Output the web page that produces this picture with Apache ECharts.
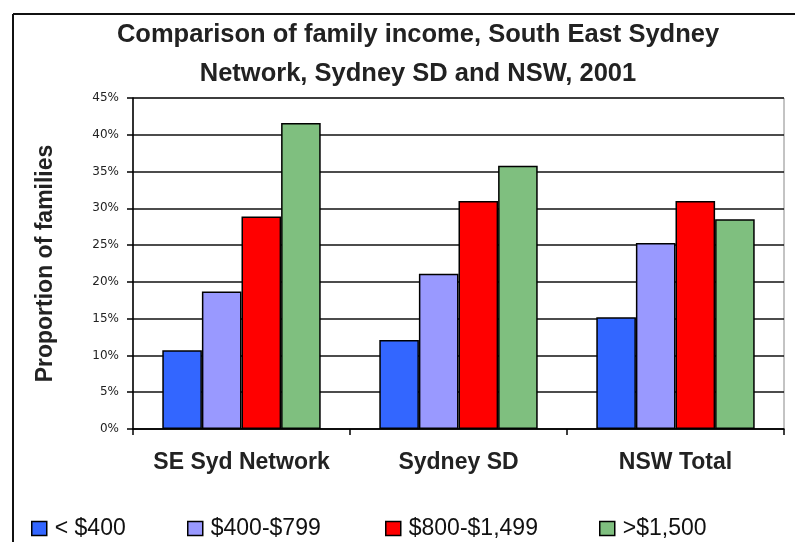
<!DOCTYPE html>
<html>
<head>
<meta charset="utf-8">
<script src="https://cdn.jsdelivr.net/npm/echarts@6/dist/echarts.min.js"></script>
<style>html,body{margin:0;padding:0;background:#fff}#c{width:795px;height:542px}</style>
</head>
<body>
<div id="c"></div>
<script>
var categories = ['SE Syd Network', 'Sydney SD', 'NSW Total'];
var seriesNames = ['< $400', '$400-$799', '$800-$1,499', '>$1,500'];
var under400 = [10.7, 12.1, 15.2];
var s400to799 = [18.7, 21.1, 25.3];
var s800to1499 = [28.9, 31.0, 31.0];
var over1500 = [41.6, 35.8, 28.5];
var yTicks = [0, 5, 10, 15, 20, 25, 30, 35, 40, 45];
var colors = ['#3366FF', '#9999FF', '#FF0000', '#7FBF7F'];
var legendLeft = [31, 187, 385, 599];

var allValues = [under400, s400to799, s800to1499, over1500];
var FONT = '"Liberation Sans", Arial, sans-serif';

var chart = echarts.init(document.getElementById('c'), null, {renderer: 'canvas'});

var series = seriesNames.map(function (n, i) {
  return {
    name: n,
    type: 'bar',
    data: allValues[i],
    barGap: '0%',
    barCategoryGap: '27%',
    itemStyle: {color: colors[i], borderColor: '#000', borderWidth: 1.5},
    emphasis: {disabled: true}
  };
});

var legends = seriesNames.map(function (n, i) {
  return {
    data: [n],
    left: legendLeft[i],
    top: 517,
    itemWidth: 15,
    itemHeight: 14,
    itemGap: 0,
    padding: 0,
    icon: 'rect',
    itemStyle: {borderColor: '#000', borderWidth: 1.5},
    textStyle: {fontFamily: FONT, fontSize: 23, color: '#111', padding: [0, 0, 0, 3]},
    selectedMode: false
  };
});

chart.setOption({
  animation: false,
  color: colors,
  title: {
    text: 'Comparison of family income, South East Sydney\nNetwork, Sydney SD and NSW, 2001',
    left: 413,
    textAlign: 'center',
    top: 10,
    textStyle: {fontFamily: FONT, fontSize: 25.5, fontWeight: 'bold', color: '#222', lineHeight: 39}
  },
  legend: legends,
  grid: {left: 133, right: 11, top: 98, bottom: 113, show: true, borderColor: '#888', borderWidth: 1, backgroundColor: 'transparent'},
  xAxis: {
    type: 'category',
    data: categories,
    axisLine: {lineStyle: {color: '#000', width: 1.5}},
    axisTick: {show: true, interval: 0, length: 6, lineStyle: {color: '#000', width: 1.5}},
    axisLabel: {interval: 0, fontFamily: FONT, fontSize: 23, fontWeight: 'bold', color: '#222', margin: 22}
  },
  yAxis: {
    type: 'value',
    min: yTicks[0],
    max: yTicks[yTicks.length - 1],
    interval: 5,
    name: 'Proportion of families',
    nameLocation: 'middle',
    nameGap: 76,
    nameTextStyle: {fontFamily: FONT, fontSize: 23, fontWeight: 'bold', color: '#222'},
    axisLine: {show: true, lineStyle: {color: '#000', width: 1.5}},
    axisTick: {show: true, length: 6, lineStyle: {color: '#000', width: 1.5}},
    axisLabel: {fontFamily: '"DejaVu Sans", Verdana, sans-serif', fontSize: 12, color: '#222', margin: 14, formatter: '{value}%'},
    splitLine: {show: true, lineStyle: {color: '#111', width: 1.5}}
  },
  graphic: [
    {type: 'line', shape: {x1: 13, y1: 14, x2: 795, y2: 14}, style: {stroke: '#111', lineWidth: 2}, silent: true},
    {type: 'line', shape: {x1: 13, y1: 14, x2: 13, y2: 542}, style: {stroke: '#111', lineWidth: 2}, silent: true}
  ],
  series: series
});
</script>
</body>
</html>
